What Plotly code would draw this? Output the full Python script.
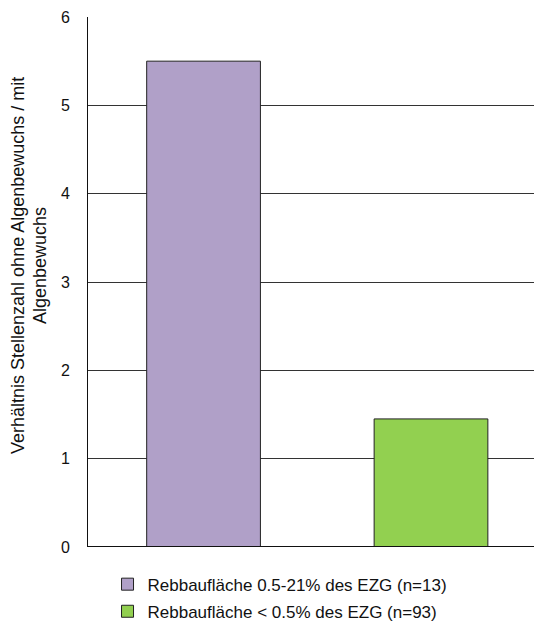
import plotly.graph_objects as go

series_names = ["Rebbaufläche 0.5-21% des EZG (n=13)", "Rebbaufläche < 0.5% des EZG (n=93)"]
series_values = [5.5, 1.45]
series_colors = ["#B0A0C8", "#92D050"]
y_ticks = [0, 1, 2, 3, 4, 5, 6]
y_title_lines = ["Verhältnis Stellenzahl ohne Algenbewuchs / mit", "Algenbewuchs"]

FONT = "Liberation Sans, Arial, sans-serif"

fig = go.Figure()
for i, (name, val, col) in enumerate(zip(series_names, series_values, series_colors)):
    fig.add_trace(go.Bar(
        x=[i], y=[val], name=name, width=0.5,
        marker=dict(color=col, line=dict(color="#222222", width=1)),
        legendgroup=f"g{i}",
    ))

# page body has an 8px margin; figure coordinates are window minus 8
fig.update_layout(
    width=534, height=622,
    margin=dict(l=80, r=0, t=9, b=83),
    paper_bgcolor="white", plot_bgcolor="white",
    font=dict(family=FONT, size=16, color="#111111"),
    showlegend=True,
    barmode="overlay",
    legend=dict(orientation="v", x=0.043, xanchor="left", y=-0.037, yanchor="top",
                traceorder="grouped", tracegroupgap=2, itemwidth=30,
                font=dict(family=FONT, size=17, color="#111111")),
    xaxis=dict(range=[-0.508, 1.488], showticklabels=False, showgrid=False,
               zeroline=False, showline=False, fixedrange=True, automargin=False),
    yaxis=dict(range=[0, 6], tickvals=y_ticks, showgrid=True, gridcolor="#333333",
               gridwidth=1, zeroline=False, showline=True, linecolor="#111111",
               linewidth=1, ticks="", ticklabelstandoff=14, automargin=False,
               tickfont=dict(family=FONT, size=16)),
)
ycenter = (539 - 258) / 530
for txt, xs in zip(y_title_lines, [-70, -48]):
    fig.add_annotation(text=txt, textangle=-90, xref="paper", yref="paper",
                       x=0, y=ycenter, xanchor="center", yanchor="middle",
                       xshift=xs, showarrow=False,
                       font=dict(family=FONT, size=18, color="#111111"))
fig.add_shape(type="line", xref="paper", yref="y", x0=0, x1=1, y0=0, y1=0,
              line=dict(color="#111111", width=2))

fig.write_html("out.html")
